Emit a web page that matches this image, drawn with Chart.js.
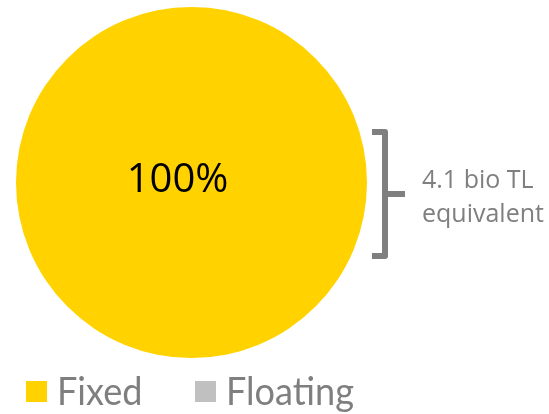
<!DOCTYPE html>
<html>
<head>
<meta charset="utf-8">
<script src="https://cdn.jsdelivr.net/npm/chart.js@4"></script>
<style>
  html, body { margin: 0; padding: 0; background: #fff; }
  #wrap { width: 549px; height: 414px; position: relative; }
</style>
</head>
<body>
<div id="wrap"><canvas id="rateChart" width="549" height="414"></canvas></div>
<script>
const labels = ['Fixed', 'Floating'];
const shares = [100, 0];
const colors = ['#FFD200', '#C0C0C0'];
const noteLines = ['4.1 bio TL', 'equivalent'];

// center percent, bracket note and legend row
const extras = {
  id: 'extras',
  afterDraw(chart) {
    const ctx = chart.ctx;
    const arc = chart.getDatasetMeta(0).data[0];
    const total = shares.reduce((a, b) => a + b, 0);
    const pct = Math.round(shares[0] / total * 100) + '%';

    ctx.save();
    ctx.fillStyle = '#000';
    ctx.font = '40px "Open Sans"';
    ctx.textAlign = 'center';
    ctx.textBaseline = 'middle';
    ctx.fillText(pct, arc.x - 14, arc.y - 2);

    // bracket
    const top = 132, bottom = 256, bx = 385, left = 372;
    const mid = (top + bottom) / 2;
    ctx.strokeStyle = '#7F7F7F';
    ctx.lineWidth = 6;
    ctx.lineJoin = 'round';
    ctx.beginPath();
    ctx.moveTo(left, top);
    ctx.lineTo(bx, top);
    ctx.lineTo(bx, bottom);
    ctx.lineTo(left, bottom);
    ctx.stroke();
    ctx.beginPath();
    ctx.moveTo(bx, mid);
    ctx.lineTo(405, mid);
    ctx.stroke();

    ctx.fillStyle = '#7F7F7F';
    ctx.font = '25px "Open Sans"';
    ctx.textAlign = 'left';
    ctx.textBaseline = 'alphabetic';
    ctx.fillText(noteLines[0], 422, 188);
    ctx.fillText(noteLines[1], 422, 222);

    // legend, text squeezed a little to get the narrow look
    const xs = [26, 195];
    ctx.font = '38px Lato';
    labels.forEach((l, i) => {
      ctx.fillStyle = colors[i];
      ctx.fillRect(xs[i], 381, 21, 21);
      ctx.fillStyle = '#7F7F7F';
      ctx.save();
      ctx.translate(xs[i] + 31, 405);
      ctx.scale(0.95, 1);
      ctx.fillText(l, 0, 0);
      ctx.restore();
    });
    ctx.restore();
  }
};

new Chart(document.getElementById('rateChart'), {
  type: 'pie',
  data: {
    labels: labels,
    datasets: [{
      data: shares,
      backgroundColor: colors,
      borderWidth: 0
    }]
  },
  options: {
    responsive: false,
    animation: false,
    layout: { padding: { top: 7, left: 16, right: 182, bottom: 56 } },
    plugins: {
      legend: { display: false },
      tooltip: { enabled: false }
    }
  },
  plugins: [extras]
});
</script>
</body>
</html>
